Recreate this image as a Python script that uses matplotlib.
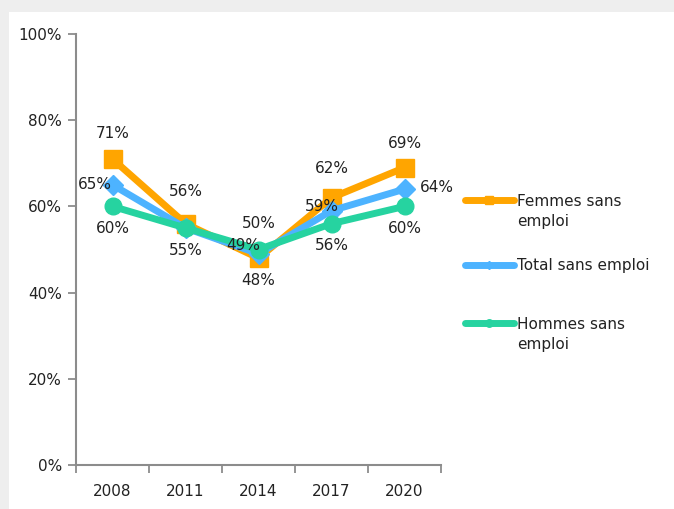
import matplotlib.pyplot as plt
from matplotlib.patches import Rectangle
from matplotlib.legend_handler import HandlerLine2D

years = ["2008", "2011", "2014", "2017", "2020"]
femmes = [71, 56, 48, 62, 69]
total = [65, 55, 49, 59, 64]
hommes = [60, 55, 50, 56, 60]

orange = "#FFA500"
blue = "#4DB3FF"
green = "#26D3A0"

plt.rcParams["font.family"] = ["DejaVu Sans"]


class FirstLineHandler(HandlerLine2D):
    # puts the legend line next to the first row of a two-row label
    def __init__(self, shift=0, **kw):
        super().__init__(**kw)
        self.shift = shift

    def create_artists(self, *args, **kw):
        arts = super().create_artists(*args, **kw)
        for a in arts:
            a.set_ydata(a.get_ydata() + self.shift)
        return arts


fig = plt.figure(figsize=(6.74, 5.09), dpi=100, facecolor="#EEEEEE")
# white panel inside the gray frame
fig.patches.append(Rectangle((9 / 674, 0), 1, 1 - 12 / 509, transform=fig.transFigure,
                             facecolor="white", edgecolor="none", zorder=-5))

ax = fig.add_axes([76 / 674, 44 / 509, (441 - 76) / 674, (465 - 34) / 509])
ax.set_facecolor("none")

x = range(len(years))
l1, = ax.plot(x, femmes, color=orange, lw=5, marker="s", ms=13, label="Femmes sans\nemploi",
              zorder=3, solid_capstyle="round")
l2, = ax.plot(x, total, color=blue, lw=5, marker="D", ms=10, label="Total sans emploi",
              zorder=4, solid_capstyle="round")
l3, = ax.plot(x, hommes, color=green, lw=5, marker="o", ms=12, label="Hommes sans\nemploi",
              zorder=5, solid_capstyle="round")

fs = 11
# labels for Femmes: above, except 2014 below
fem_dy = [18, 23, -16, 21, 17]
for i, v in enumerate(femmes):
    ax.annotate(f"{v}%", (i, v), xytext=(0, fem_dy[i]), textcoords="offset points",
                ha="center", va="center", fontsize=fs, color="#222222", zorder=6)
# labels for Total (2011 hidden by overlap in the original)
tot_off = {0: (-13, 0), 2: (-11, 6), 3: (-7, 3), 4: (23, 1)}
for i, (dx, dy) in tot_off.items():
    ax.annotate(f"{total[i]}%", (i, total[i]), xytext=(dx, dy), textcoords="offset points",
                ha="center", va="center", fontsize=fs, color="#222222", zorder=6)
# labels for Hommes: below, except 2014 above
for i, v in enumerate(hommes):
    dy = 19 if i == 2 else -16
    ax.annotate(f"{v}%", (i, v), xytext=(0, dy), textcoords="offset points",
                ha="center", va="center", fontsize=fs, color="#222222", zorder=6)

ax.set_ylim(0, 100)
ax.set_xlim(-0.5, len(years) - 0.5)
ax.set_yticks(range(0, 101, 20))
ax.set_yticklabels([f"{t}%" for t in range(0, 101, 20)], fontsize=fs, color="#222222")
ax.set_xticks([i - 0.5 for i in range(len(years) + 1)])
ax.set_xticklabels([])
ax.set_xticks(list(x), minor=True)
ax.set_xticklabels(years, minor=True, fontsize=fs, color="#222222")
ax.tick_params(axis="x", which="minor", length=0, pad=14)
ax.tick_params(axis="x", which="major", length=6, width=1.3, color="#8C8C8C")
ax.tick_params(axis="y", length=6, width=1.3, color="#8C8C8C", pad=4)

for s in ["top", "right"]:
    ax.spines[s].set_visible(False)
for s in ["left", "bottom"]:
    ax.spines[s].set_color("#8C8C8C")
    ax.spines[s].set_linewidth(1.5)

leg_kw = dict(loc="upper left", frameon=False, fontsize=fs, markerscale=0.45,
              handlelength=3.2, handletextpad=0.25, labelspacing=1.9, labelcolor="#222222")
leg1 = fig.legend(handles=[l1, l2], bbox_to_anchor=(451 / 674, 1 - 180 / 509),
                  handler_map={l1: FirstLineHandler(shift=8.5)}, **leg_kw)
leg2 = fig.legend(handles=[l3], bbox_to_anchor=(451 / 674, 1 - 303 / 509),
                  handler_map={l3: FirstLineHandler(shift=8.5)}, **leg_kw)
for leg in (leg1, leg2):
    for t in leg.get_texts():
        t.set_linespacing(1.45)

fig.savefig("out.png", dpi=100, facecolor=fig.get_facecolor())
